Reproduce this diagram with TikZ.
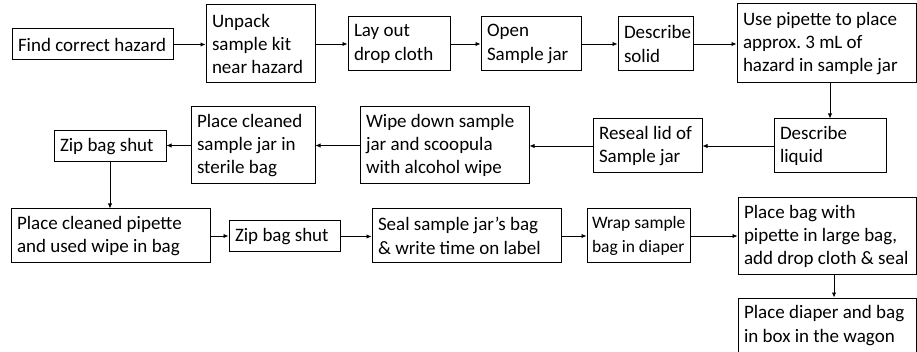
\documentclass[tikz,border=0pt]{standalone}
\usepackage{fontspec}
\setmainfont{Carlito}
\usepackage{tikz}
\usetikzlibrary{arrows.meta}

\begin{document}
\begin{tikzpicture}[x=1pt, y=-1pt,
        stepbox/.style={rectangle, draw, line width=1pt, align=flush left, inner xsep=6pt, inner ysep=0pt, font=\fontsize{19}{23.3}\selectfont\frenchspacing},
        arr/.style={-{Latex[length=5pt, width=4.5pt]}, line width=0.9pt}
    ]
        \useasboundingbox (0,0) rectangle (917,352);

        % First row (left to right)
        \node[stepbox, text width=149pt, minimum height=31pt] (find) at (92.5,44.5) {Find correct hazard};
        \node[stepbox, text width=97pt, minimum height=78pt] (unpack) at (260.5,44) {Unpack\\sample kit\\near hazard};
        \node[stepbox, text width=90pt, minimum height=54pt] (cloth) at (399,44) {Lay out\\drop cloth};
        \node[stepbox, text width=88pt, minimum height=54pt] (open) at (531,44) {Open\\Sample jar};
        \node[stepbox, text width=63pt, minimum height=54pt] (solid) at (655.5,44) {Describe\\solid};
        \node[stepbox, text width=167pt, minimum height=79pt] (pipette) at (826.5,43.5) {Use pipette to place\\approx. 3 mL of\\hazard in sample jar};

        % Second row (right to left)
        \node[stepbox, text width=100pt, minimum height=54pt] (liquid) at (830,146) {Describe\\liquid};
        \node[stepbox, text width=97pt, minimum height=54pt] (reseal) at (647.5,146) {Reseal lid of\\Sample jar};
        \node[stepbox, text width=157pt, minimum height=77pt] (wipe) at (444.5,145.5) {Wipe down sample\\jar and scoopula\\with alcohol wipe};
        \node[stepbox, text width=112pt, minimum height=77pt] (cleanjar) at (253,145.5) {Place cleaned\\sample jar in\\sterile bag};
        \node[stepbox, text width=100pt, minimum height=31pt] (zipa) at (110,146.5) {Zip bag shut};

        % Third row (left to right)
        \node[stepbox, text width=187pt, minimum height=54pt] (pipbag) at (110.5,236) {Place cleaned pipette\\and used wipe in bag};
        \node[stepbox, text width=99pt, minimum height=31pt] (zipb) at (284.5,236.5) {Zip bag shut};
        \node[stepbox, text width=177pt, minimum height=54pt] (seal) at (466.5,236) {Seal sample jar’s bag\\\& write time on label};
        \node[stepbox, inner xsep=5pt, text width=93pt, minimum height=54pt, font=\fontsize{17.5}{23.3}\selectfont] (wrap) at (638.5,236) {\mbox{Wrap sample}\\\mbox{bag in diaper}};
        \node[stepbox, text width=166pt, minimum height=77pt] (bigbag) at (827,236.5) {Place bag with\\pipette in large bag,\\add drop cloth \& seal};
        \node[stepbox, text width=166pt, minimum height=55pt] (wagon) at (827,325.5) {Place diaper and bag\\in box in the wagon};

        % Arrows, first row
        \draw[arr] (find.east) -- (find.east -| unpack.west);
        \draw[arr] (unpack.east) -- (unpack.east -| cloth.west);
        \draw[arr] (cloth.east) -- (cloth.east -| open.west);
        \draw[arr] (open.east) -- (open.east -| solid.west);
        \draw[arr] (solid.east) -- (solid.east -| pipette.west);
        \draw[arr] (liquid.north |- pipette.south) -- (liquid.north);

        % Arrows, second row
        \draw[arr] (liquid.west) -- (liquid.west -| reseal.east);
        \draw[arr] (reseal.west) -- (reseal.west -| wipe.east);
        \draw[arr] (wipe.west) -- (wipe.west -| cleanjar.east);
        \draw[arr] (cleanjar.west) -- (cleanjar.west -| zipa.east);
        \draw[arr] (zipa.south) -- (zipa.south |- pipbag.north);

        % Arrows, third row
        \draw[arr] (pipbag.east) -- (pipbag.east -| zipb.west);
        \draw[arr] (zipb.east) -- (zipb.east -| seal.west);
        \draw[arr] (seal.east) -- (seal.east -| wrap.west);
        \draw[arr] (wrap.east) -- (wrap.east -| bigbag.west);
        \draw[arr] ([xshift=7pt]bigbag.south) -- ([xshift=7pt]wagon.north);
    \end{tikzpicture}
\end{document}
